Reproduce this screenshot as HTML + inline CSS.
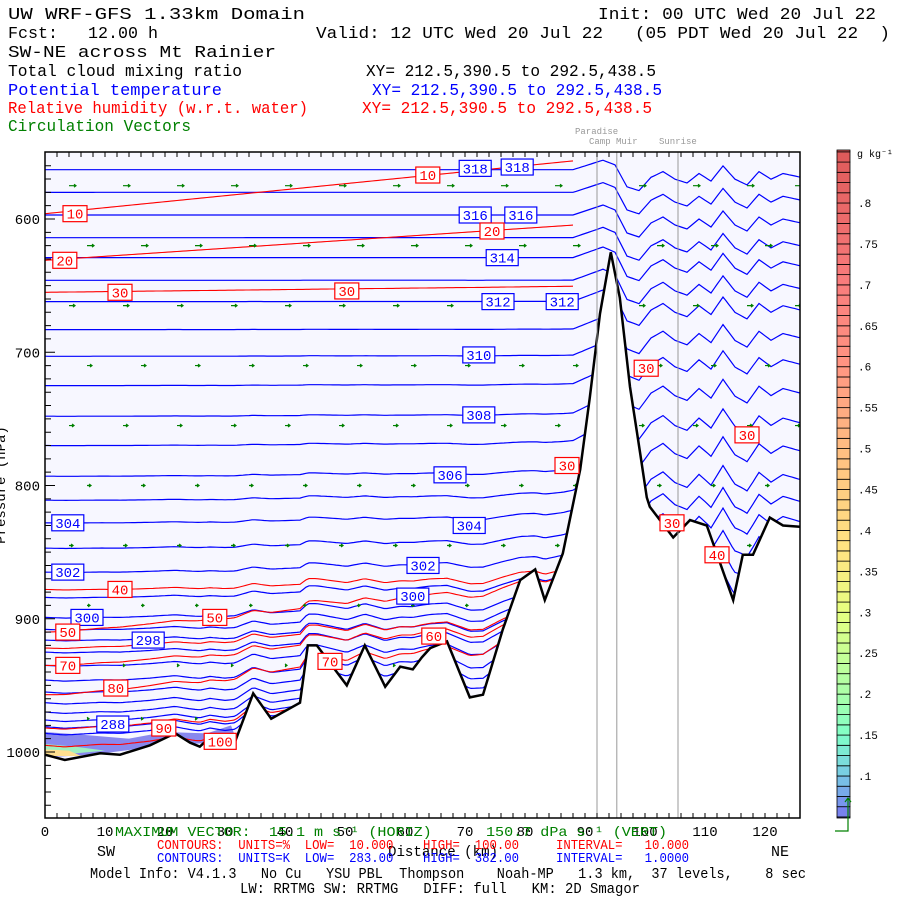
<!DOCTYPE html>
<html><head><meta charset="utf-8">
<style>
html,body{margin:0;padding:0;background:#fff;}
svg{display:block;font-family:"Liberation Mono",monospace;}
text{white-space:pre;}
</style></head>
<body>
<svg id="chart" width="900" height="900" viewBox="0 0 900 900" xmlns="http://www.w3.org/2000/svg" xml:space="preserve">
  <g font-size="17" fill="#000">
    <text x="8" y="19" textLength="297" lengthAdjust="spacingAndGlyphs">UW WRF-GFS 1.33km Domain</text>
    <text x="598" y="19" textLength="278" lengthAdjust="spacingAndGlyphs">Init: 00 UTC Wed 20 Jul 22</text>
    <text x="8" y="38" textLength="150" lengthAdjust="spacingAndGlyphs">Fcst:   12.00 h</text>
    <text x="316" y="38" textLength="574" lengthAdjust="spacingAndGlyphs">Valid: 12 UTC Wed 20 Jul 22   (05 PDT Wed 20 Jul 22  )</text>
    <text x="8" y="57" textLength="268" lengthAdjust="spacingAndGlyphs">SW-NE across Mt Rainier</text>
    <text x="8" y="76" textLength="234" lengthAdjust="spacingAndGlyphs">Total cloud mixing ratio</text>
    <text x="366" y="76" textLength="290" lengthAdjust="spacingAndGlyphs">XY= 212.5,390.5 to 292.5,438.5</text>
    <text x="8" y="95" fill="#0000ff" textLength="214" lengthAdjust="spacingAndGlyphs">Potential temperature</text>
    <text x="372" y="95" fill="#0000ff" textLength="290" lengthAdjust="spacingAndGlyphs">XY= 212.5,390.5 to 292.5,438.5</text>
    <text x="8" y="113" fill="#ff0000" textLength="300" lengthAdjust="spacingAndGlyphs">Relative humidity (w.r.t. water)</text>
    <text x="362" y="113" fill="#ff0000" textLength="290" lengthAdjust="spacingAndGlyphs">XY= 212.5,390.5 to 292.5,438.5</text>
    <text x="8" y="131" fill="#008000" textLength="183" lengthAdjust="spacingAndGlyphs">Circulation Vectors</text>
  </g>
  <g id="plot"></g>
  <g id="cbar"></g>
  <g font-size="14">
    <text x="97" y="856" font-size="15">SW</text>
    <text x="771" y="856" font-size="15">NE</text>
    <text x="388" y="856" font-size="15" textLength="110" lengthAdjust="spacingAndGlyphs">Distance (km)</text>
    <text x="115" y="836" fill="#008000" textLength="552" lengthAdjust="spacingAndGlyphs">MAXIMUM VECTOR:  15.1 m s⁻¹ (HORIZ)      150.7 dPa s⁻¹ (VERT)</text>
    <text x="157" y="849" fill="#ff0000" textLength="532" lengthAdjust="spacingAndGlyphs">CONTOURS:  UNITS=%  LOW=  10.000    HIGH=  100.00     INTERVAL=   10.000</text>
    <text x="157" y="862" fill="#0000ff" textLength="532" lengthAdjust="spacingAndGlyphs">CONTOURS:  UNITS=K  LOW=  283.00    HIGH=  382.00     INTERVAL=   1.0000</text>
    <text x="90" y="878" font-size="15" textLength="716" lengthAdjust="spacingAndGlyphs">Model Info: V4.1.3   No Cu   YSU PBL  Thompson    Noah-MP   1.3 km,  37 levels,    8 sec</text>
    <text x="240" y="893" font-size="15" textLength="400" lengthAdjust="spacingAndGlyphs">LW: RRTMG SW: RRTMG   DIFF: full   KM: 2D Smagor</text>
  </g>
</svg>
<script>
// ---- data ----
const terrainKm = [0,3.3,9.2,12.5,17.5,21.7,24.2,25.8,27.5,30,31.7,34.7,37.7,42.5,43.8,45.3,50.3,53.3,56.7,59.2,61.3,62.8,64.2,67,70.8,73,76.3,79.2,81.7,83.3,86.3,89.2,90.8,92.5,94.3,95.8,97.5,99.2,100.3,100.8,104.7,107.5,110.3,114.7,116.3,118,120.8,123,125.8];
const terrainP = [1002,1006,1001,1002,995,986,993,996,989,995,992,956,975,963,920,920,950,920,951,936,938,929,922,917,959,957,908,871,863,886,851,788,734,671,625,659,726,776,809,816,839,826,830,886,852,852,824,830,831];
const thetaLevels = [318,317,316,315,314,313,312,311,310,309,308,307,306,305,304,303,302,301,300,299,298,297,296,295,294,293,292,291,290,289];
const thetaLeftP = [563,580,597,614,629,646,662,683,703,725,748,770,793,811,828,847,865,884,899,908,916,925,935,946,955,963,970,976,981,986];
const waveKm = [88,93,95,97,99,101,103,105,107,109,111,113,115,117,119,121,123,126];
const waveP = [0,-10,-5,18,22,8,2,10,14,4,12,-4,10,16,2,10,4,8];
const rhLevels = [10,20,30,40,50,60,70,80,90,100];
const rhLeftP = [596,631,655,878,910,922,935,957,982,995];
const rhSlope = [-0.45,-0.3,-0.05,0,-0.3,-0.1,-0.2,-0.3,-0.1,-0.05];
const thetaLabelKm = [71.7,78.7,71.7,79.3,76.2,75.5,86.2,72.3,72.3,67.5,3.8,70.7,3.8,63,7,61.3,17.2,11.3];
const thetaLabelP = [562,561,597,597,629,662,662,702,747,792,828,830,865,860,899,883,916,979];
const thetaLabelVal = [318,318,316,316,314,312,312,310,308,306,304,304,302,302,300,300,298,288];
const rhLabelKm = [5,63.8,3.3,74.5,12.5,50.3,100.2,87,117,104.5,12.5,112,3.8,28.3,64.8,3.8,47.5,11.8,19.8,29.2];
const rhLabelP = [596,567,631,609,655,654,712,785,762,828,878,852,910,899,913,935,932,952,982,992];
const rhLabelVal = [10,10,20,20,30,30,30,30,30,30,40,40,50,50,60,70,70,80,90,100];
const windP = [575,620,665,710,755,800,845,890,935,975];
const windU = [7,7,6,5,5,4,4,3,2,2];
const windKm = [4,13,22,31,40,49,58,67,76,85,99,108,117,125];
const cbarTicks = [0.8,0.75,0.7,0.65,0.6,0.55,0.5,0.45,0.4,0.35,0.3,0.25,0.2,0.15,0.1];
const cbarTickLabels = [".8",".75",".7",".65",".6",".55",".5",".45",".4",".35",".3",".25",".2",".15",".1"];
const siteKm = [92.0,95.3,105.5];
const siteNames = ["Paradise","Camp Muir","Sunrise"];

// ---- axes ----
const X0=45,X1=800,Y0=152,Y1=818;
const xs = km => X0 + km*6;
const ys = p => 219 + (p-600)*1.3325;
const NS="http://www.w3.org/2000/svg";
function mk(tag, attrs, parent){const e=document.createElementNS(NS,tag);for(const k in attrs)e.setAttribute(k,attrs[k]);parent.appendChild(e);return e;}
function interp(xa, ya, x){if(x<=xa[0])return ya[0];for(let i=1;i<xa.length;i++){if(x<=xa[i]){const t=(x-xa[i-1])/(xa[i]-xa[i-1]);return ya[i-1]+t*(ya[i]-ya[i-1]);}}return ya[ya.length-1];}
const terr = km => interp(terrainKm, terrainP, km);
function follow(p0, km){
  const g = 0.35*Math.pow((p0-550)/450,4);
  return p0 + g*(terr(km)-1002);
}
function thetaP(p0, km){
  let p = follow(p0, km);
  const a = 0.7+0.5*(p0-550)/450; p += interp(waveKm,waveP,km)*a;
  return p;
}
const plot=document.getElementById('plot');
const clip=mk('clipPath',{id:'pclip'},mk('defs',{},plot));
mk('rect',{x:X0,y:Y0,width:X1-X0,height:Y1-Y0},clip);
const bg=mk('rect',{x:X0,y:Y0,width:X1-X0,height:Y1-Y0,fill:'#f7f7ff'},plot);


const inner=mk('g',{'clip-path':'url(#pclip)'},plot);

// cloud patch near surface
const cloud=mk('path',{d:`M${xs(0)},${ys(985)} L${xs(6)},${ys(987)} L${xs(14)},${ys(990)} L${xs(20)},${ys(985)} L${xs(27)},${ys(986)} L${xs(31)},${ys(980)} L${xs(32)},${ys(992)} L${xs(20)},${ys(995)} L${xs(8)},${ys(1002)} L${xs(0)},${ys(1004)} Z`,fill:'#8888ee'},inner);


mk('path',{d:`M${xs(0)},${ys(994)} L${xs(5)},${ys(996)} L${xs(10)},${ys(999)} L${xs(5)},${ys(1001)} L${xs(0)},${ys(1001)} Z`,fill:'#a0f0c0'},inner);
mk('path',{d:`M${xs(0)},${ys(998)} L${xs(4)},${ys(999)} L${xs(6)},${ys(1003)} L${xs(0)},${ys(1003)} Z`,fill:'#ffe090'},inner);

// isentropes
thetaLevels.forEach((th,i)=>{
  let d='';
  for(let km=0;km<=126;km+=0.5){const p=thetaP(thetaLeftP[i],km);d+=(km===0?'M':'L')+xs(km).toFixed(1)+','+ys(p).toFixed(1);}
  const l=mk('path',{d:d,fill:'none',stroke:'#0000ff','stroke-width':1.2},inner);
  
  
});
// RH contours
rhLevels.forEach((rh,i)=>{
  let d='';
  for(let km=0;km<=88;km+=0.5){
    const p0=rhLeftP[i]+rhSlope[i]*km;
    const p=follow(p0,km);
    d+=(km===0?'M':'L')+xs(km).toFixed(1)+','+ys(p).toFixed(1);}
  const l=mk('path',{d:d,fill:'none',stroke:'#ff0000','stroke-width':1.1},inner);
  
  
});
// wind vectors
windP.forEach((p,r)=>{
  windKm.forEach((km,c)=>{
    const x=xs(km+(r%2)*3), y=ys(p); const len=windU[r];
    const a=mk('path',{d:`M${x},${y} L${x+len},${y} M${x+len-2},${y-1.5} L${x+len},${y} L${x+len-2},${y+1.5}`,stroke:'#008000','stroke-width':1.2,fill:'none'},inner);
    
    
  });
});
// terrain
let td='M'+xs(terrainKm[0])+','+ys(terrainP[0]);
terrainKm.forEach((k,i)=>{td+=' L'+xs(k).toFixed(1)+','+ys(terrainP[i]).toFixed(1);});
const tfill=mk('path',{d:td+` L${X1},${Y1} L${X0},${Y1} Z`,fill:'#ffffff'},inner);


const tline=mk('path',{d:td,fill:'none',stroke:'#000','stroke-width':2.5},inner);


// site lines
siteKm.forEach((k,i)=>{
  const l=mk('line',{x1:xs(k),x2:xs(k),y1:Y0,y2:Y1,stroke:'#999','stroke-width':1},inner);
  
  
});
const sitePos=[[575,134],[589,144],[659,144]];
siteNames.forEach((n,i)=>{
  const t=mk('text',{x:sitePos[i][0],y:sitePos[i][1],'font-size':9,fill:'#999'},plot);
  t.textContent=n;
  
  
});
// labels
function box(x,y,txt,col,name){
  const w=txt.length*8+8;
  const g=mk('g',{},inner);
  
  
  mk('rect',{x:x-w/2,y:y-8,width:w,height:16,fill:'#fff',stroke:col,'stroke-width':1.2},g);
  const t=mk('text',{x:x,y:y+5,'text-anchor':'middle','font-size':14,fill:col},g);
  t.textContent=txt;
}
thetaLabelVal.forEach((v,i)=>box(xs(thetaLabelKm[i]),ys(thetaLabelP[i]),String(v),'#0000ff','theta-label'));
rhLabelVal.forEach((v,i)=>box(xs(rhLabelKm[i]),ys(rhLabelP[i]),String(v),'#ff0000','rh-label'));

// frame and ticks
const fr=mk('rect',{x:X0,y:Y0,width:X1-X0,height:Y1-Y0,fill:'none',stroke:'#000','stroke-width':1.5},plot);


let tk='';
for(let km=0;km*6+X0<=X1;km+=2){const x=xs(km);tk+=`M${x},${Y0} L${x},${Y0+5} M${x},${Y1} L${x},${Y1-5} `;}
for(let p=560;p<=1040;p+=10){const y=ys(p);const L=(p%100===0)?10:6;tk+=`M${X0},${y} L${X0+L},${y} `;}
const ticks=mk('path',{d:tk,stroke:'#000','stroke-width':1},plot);


for(let km=0;km<=120;km+=10){
  const t=mk('text',{x:xs(km),y:836,'text-anchor':'middle','font-size':14},plot);
  t.textContent=String(km);
  
  
}
[600,700,800,900,1000].forEach(p=>{
  const t=mk('text',{x:40,y:ys(p)+5,'text-anchor':'end','font-size':14},plot);
  t.textContent=String(p);
  
  
});
const yt=mk('text',{x:0,y:0,'font-size':14,transform:'translate(5,485) rotate(-90)','text-anchor':'middle'},plot);
yt.textContent='Pressure (hPa)';



// colorbar
const cb=document.getElementById('cbar');
const CB_X=837,CB_W=13,CB_TOP=150,CB_BOT=818;
const cy = v => 776 + (v-0.1)*(203-776)/0.7;
const stops=[[0.05,[120,120,240]],[0.1,[120,200,230]],[0.15,[128,255,200]],[0.2,[170,255,170]],[0.3,[230,255,128]],[0.37,[255,230,130]],[0.5,[255,190,130]],[0.6,[255,150,130]],[0.7,[250,125,125]],[0.86,[222,90,90]]];
function col(v){for(let i=1;i<stops.length;i++){if(v<=stops[i][0]){const t=(v-stops[i-1][0])/(stops[i][0]-stops[i-1][0]);const a=stops[i-1][1],b=stops[i][1];return `rgb(${a.map((c,j)=>Math.round(c+t*(b[j]-c))).join(',')})`;}}const c=stops[stops.length-1][1];return `rgb(${c.join(',')})`;}
const step=0.0125;
for(let v=0.0375;cy(v)>CB_TOP-1;v+=step){
  let y1=Math.min(cy(v),CB_BOT), y2=Math.max(cy(v+step),CB_TOP);
  const r=mk('rect',{x:CB_X,y:y2,width:CB_W,height:y1-y2,fill:col(v+step/2),stroke:'#000','stroke-width':0.8},cb);
  
  
}
cbarTicks.forEach((v,i)=>{
  const t=mk('text',{x:858,y:cy(v)+4,'font-size':11},cb);
  t.textContent=cbarTickLabels[i];
  
  
});
const ut=mk('text',{x:857,y:157,'font-size':10},cb);
ut.textContent='g kg⁻¹';


const ref=mk('path',{d:'M835,831 L848,831 L848,798 M845,802 L848,798 L851,802',stroke:'#008000','stroke-width':1.2,fill:'none'},cb);


</script>
</body></html>
